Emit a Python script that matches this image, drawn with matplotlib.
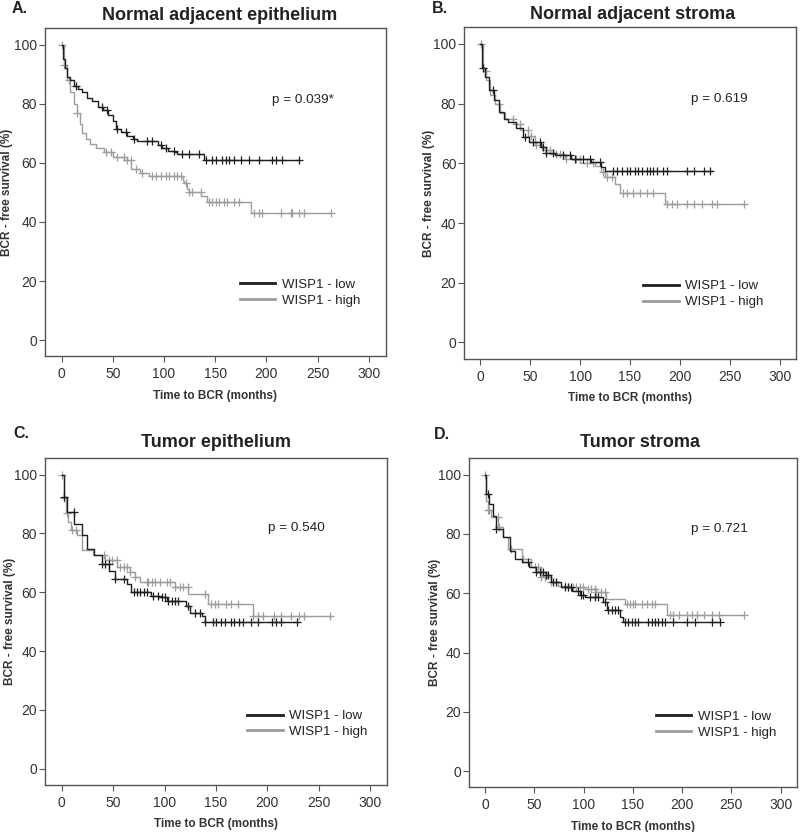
import numpy as np
import matplotlib
matplotlib.use("Agg")
import matplotlib.pyplot as plt

plt.rcParams['font.family'] = ['Liberation Sans', 'DejaVu Sans']

# A. Normal adjacent epithelium
A_low_t = [0, 1, 3, 5, 8, 12, 16, 20, 25, 30, 35, 40, 45, 50, 53, 58, 64, 70, 74, 94, 98, 104, 110, 113, 139]
A_low_s = [100, 95, 92, 89, 88, 86, 85, 84, 82, 81, 79, 78, 76, 74, 71.5, 70.5, 69, 68, 67.5, 66, 65, 64, 63.5, 63, 61]
A_low_end = 232
A_low_cens = [13.7, 39.7, 44.6, 54.4, 62.5, 70.7, 83.7, 88.6, 96.7, 101.6, 109.7, 117.9, 124.4, 134.2,
              140.7, 147.2, 150.4, 157, 160.2, 163.5, 168.4, 175, 183, 192.8, 205.8, 209, 215.6, 231.9]
A_high_t = [0, 2, 5, 8, 12, 15, 18, 20, 24, 28, 34, 41, 50, 61, 68, 77, 85, 119, 120, 122, 124, 136, 142, 185]
A_high_s = [100, 93, 88, 84, 80, 77, 73, 70, 68, 66.5, 65, 63.5, 62, 60.8, 58, 56.6, 55.5, 54, 53, 51, 50, 48.7, 46.8, 43]
A_high_end = 262
A_high_cens = [0.3, 2.3, 7.2, 15.3, 43, 47.9, 54.4, 60.9, 64.2, 67.4, 72.3, 78.8, 88.6, 91.8, 96.7, 101.6, 104.8,
               109.7, 113, 116.3, 121.1, 124.4, 127.6, 135.8, 143.9, 147.2, 150.4, 153.7, 158.6, 161.8, 168.4,
               173.2, 187.9, 192.8, 196, 213.9, 223.7, 225.3, 231.9, 236.8, 262.8]

# B. Normal adjacent stroma
B_low_t = [0, 2, 5, 9, 14, 19, 24, 28, 36, 43, 49, 61, 66, 75, 91, 111, 121, 125]
B_low_s = [100, 92, 89, 84.6, 81.2, 77.3, 75, 73.9, 71.7, 68.9, 67.2, 65.5, 63.3, 62.7, 61.6, 60.5, 58.8, 57.5]
B_low_end = 232
B_low_cens = [2.4, 12.4, 44.3, 52.7, 59.4, 62.7, 66.1, 72.8, 82.9, 89.6, 94.6, 103, 109.7, 119.8, 133.2, 136.6,
              141.6, 146.7, 150, 155, 158.4, 161.8, 166.8, 170.1, 173.5, 176.9, 183.5, 187, 207, 213.7, 223.8, 230.5]
B_high_t = [0, 3, 6, 10, 15, 20, 25, 33, 40, 48, 55, 62, 70, 85, 100, 115, 121, 125, 135, 140, 185]
B_high_s = [100, 91, 88, 83, 80, 77, 75, 73, 71, 69, 66, 64.5, 63, 61.5, 60, 59, 57, 55.5, 53, 50, 46.5]
B_high_end = 263
B_high_cens = [0.3, 5.7, 19.1, 32.5, 39.3, 47.7, 51, 56, 69.5, 76.2, 79.5, 86.3, 96.3, 99.7, 106.4, 113, 123, 126.5,
               131.6, 143.3, 146.7, 153.3, 160, 166.8, 173.5, 187, 192, 197, 207, 213.7, 222, 232.3, 237.3, 264]

# C. Tumor epithelium
C_low_t = [0, 2, 5.5, 12, 20, 25, 31, 39, 46, 52, 63, 67, 87, 95, 102, 121, 124.5, 136, 139]
C_low_s = [100, 92.4, 87.3, 83.3, 79.3, 74.7, 72.5, 69.6, 67.3, 64.5, 62.8, 60, 58.8, 58.3, 57.1, 55.4, 53.1, 52, 50]
C_low_end = 230
C_low_cens = [2.2, 11.9, 39.3, 42.5, 45.8, 52.2, 60.2, 69.8, 73, 76.3, 79.5, 82.7, 89.1, 94, 97.2, 100.4, 103.6,
              106.8, 110, 113.3, 122.9, 129.3, 134.2, 139, 147, 150.2, 155.1, 158.3, 164.7, 167.9, 172.7, 176,
              184, 190.4, 204.9, 208.1, 212.9, 229]
C_high_t = [0, 2, 4, 6, 9, 15, 20, 30, 42, 54, 66, 71, 76, 110, 123, 142, 185.5]
C_high_s = [100, 92, 87, 84, 81, 79.3, 74.2, 72.5, 70.8, 68.5, 66.8, 65.1, 63.4, 61.7, 59.4, 56, 52]
C_high_end = 262
C_high_cens = [0.3, 2.3, 5.5, 10.3, 13.5, 40.9, 45.7, 48.9, 53.7, 56.9, 60.2, 63.4, 66.6, 71.4, 82.7, 84.3, 87.5,
               90.7, 95.6, 102, 105.2, 110, 114.9, 118.1, 122.9, 139, 145.4, 148.6, 151.8, 159.9, 164.7, 171.1,
               185.6, 190.4, 195.3, 206.5, 213, 222.6, 230.6, 235.5, 261.3]

# D. Tumor stroma
D_low_t = [0, 1, 4.4, 7.8, 11.2, 18, 25, 30, 38, 45, 52, 62, 67, 77.5, 88, 96, 101, 120, 123.3, 137, 140.3]
D_low_s = [100, 93.5, 90.1, 86.2, 81.7, 78.9, 74.4, 71.6, 70.5, 68.8, 67.1, 66, 63.7, 62.1, 60.9, 59.3, 58.7, 57,
           54.2, 52, 50.3]
D_low_end = 239
D_low_cens = [2.7, 11.2, 43.5, 52, 55.4, 58.8, 62.2, 63.8, 68.9, 72.3, 80.8, 84.2, 87.6, 94.4, 97.8, 99.5, 106.3,
              111.4, 114.8, 121.6, 125, 128.4, 131.8, 135.2, 142, 145.4, 148.8, 152.2, 155.6, 165.8, 169.2, 172.6,
              176, 179.4, 182.8, 191.3, 204.9, 213.4, 230.4, 238.9]
D_high_t = [0, 1, 2.7, 6, 13, 18, 23, 38, 47, 57, 67, 74, 81, 101, 113, 123, 142, 184.5]
D_high_s = [100, 91, 88, 85.6, 82.3, 78.9, 75, 71.6, 68.8, 65.4, 63.7, 62.6, 62.1, 61.5, 60.4, 58.1, 56.5, 52.5]
D_high_end = 263
D_high_cens = [0.3, 2.7, 4.4, 12.9, 14.6, 26.5, 38.4, 50.3, 53.6, 57.1, 60.4, 67.2, 72.3, 80.8, 84.2, 89.3, 92.7,
               96.1, 99.5, 104.6, 108, 111.4, 113.1, 118.2, 121.6, 143.7, 147.1, 150.5, 152.2, 159, 164.1, 169.2,
               172.6, 187.9, 191.3, 196.4, 204.9, 210, 215.1, 221.9, 230.4, 237.2, 262.6]

letters = ['A.', 'B.', 'C.', 'D.']
titles = ['Normal adjacent epithelium', 'Normal adjacent stroma', 'Tumor epithelium', 'Tumor stroma']
pvalues = ['p = 0.039*', 'p = 0.619', 'p = 0.540', 'p = 0.721']
labels = ['WISP1 - low', 'WISP1 - high']

panels = [
    (A_low_t, A_low_s, A_low_end, A_low_cens, A_high_t, A_high_s, A_high_end, A_high_cens),
    (B_low_t, B_low_s, B_low_end, B_low_cens, B_high_t, B_high_s, B_high_end, B_high_cens),
    (C_low_t, C_low_s, C_low_end, C_low_cens, C_high_t, C_high_s, C_high_end, C_high_cens),
    (D_low_t, D_low_s, D_low_end, D_low_cens, D_high_t, D_high_s, D_high_end, D_high_cens),
]

# axes rectangles in figure fraction
rects = [
    [0.056, 0.572, 0.426, 0.394],
    [0.580, 0.569, 0.415, 0.398],
    [0.056, 0.057, 0.428, 0.392],
    [0.586, 0.054, 0.410, 0.395],
]
# per-panel placement tweaks (axes fraction)
letter_xy = [(-0.098, 1.036), (-0.096, 1.036), (-0.092, 1.052), (-0.108, 1.049)]
title_x = [0.513, 0.509, 0.5, 0.523]
title_pad = [6, 6, 8, 8]
ylabel_x = [-0.094, -0.088, -0.083, -0.086]
p_xy = [(0.666, 0.782), (0.683, 0.784), (0.652, 0.787), (0.676, 0.786)]
leg_xy = [(0.572, 0.236), (0.539, 0.237), (0.591, 0.229), (0.570, 0.233)]

LOW_C = '#1e1e1e'
HIGH_C = '#9d9d9d'


def km(ax, t, s, end, cens, color, label):
    tt = list(t) + [end]
    ss = list(s) + [s[-1]]
    z = 3 if color == LOW_C else 2
    ax.step(tt, ss, where='post', color=color, lw=1.0, label=label, zorder=z)
    idx = np.searchsorted(np.array(t), cens, side='right') - 1
    cs = np.array(s)[idx]
    ax.plot(cens, cs, ls='none', marker='+', ms=6, mew=0.9, color=color, zorder=z)


fig = plt.figure(figsize=(8, 8.32), dpi=100)

for i, (lt, ls_, le, lc, ht, hs, he, hc) in enumerate(panels):
    ax = fig.add_axes(rects[i])
    km(ax, ht, hs, he, hc, HIGH_C, labels[1])
    km(ax, lt, ls_, le, lc, LOW_C, labels[0])
    ax.set_xlim(-16.5, 316.5)
    ax.set_ylim(-5.4, 105.5)
    ax.set_xticks([0, 50, 100, 150, 200, 250, 300])
    ax.set_yticks([0, 20, 40, 60, 80, 100])
    for sp in ax.spines.values():
        sp.set_color('#555555')
        sp.set_linewidth(1.0)
    ax.tick_params(direction='out', length=4, width=0.8, colors='#555555',
                   labelcolor='#333333', labelsize=10)
    ax.tick_params(axis='y', pad=1.5)
    ax.tick_params(axis='x', pad=4)
    ax.set_xlabel('Time to BCR (months)', fontsize=8.5, fontweight='bold', color='#333333', labelpad=6)
    ax.set_ylabel('BCR - free survival (%)', fontsize=8.5, fontweight='bold', color='#333333')
    ax.yaxis.set_label_coords(ylabel_x[i], 0.5)
    ax.set_title(titles[i], fontsize=13, fontweight='bold', color='#222222',
                 pad=title_pad[i], x=title_x[i])
    ax.text(letter_xy[i][0], letter_xy[i][1], letters[i], transform=ax.transAxes, fontsize=11.5,
            fontweight='bold', color='#222222', ha='left', va='bottom')
    ax.text(p_xy[i][0], p_xy[i][1], pvalues[i], transform=ax.transAxes, fontsize=9.7, color='#222222',
            ha='left', va='center')
    h, l = ax.get_legend_handles_labels()
    leg = ax.legend(h[::-1], l[::-1], loc='upper left', bbox_to_anchor=leg_xy[i], frameon=False,
                    borderpad=0, borderaxespad=0, fontsize=9.5, handlelength=2.7,
                    handletextpad=0.5, labelspacing=0.27)
    for line in leg.get_lines():
        line.set_linewidth(2.0)
    for txt in leg.get_texts():
        txt.set_color('#222222')

fig.savefig('out.png', dpi=100)
